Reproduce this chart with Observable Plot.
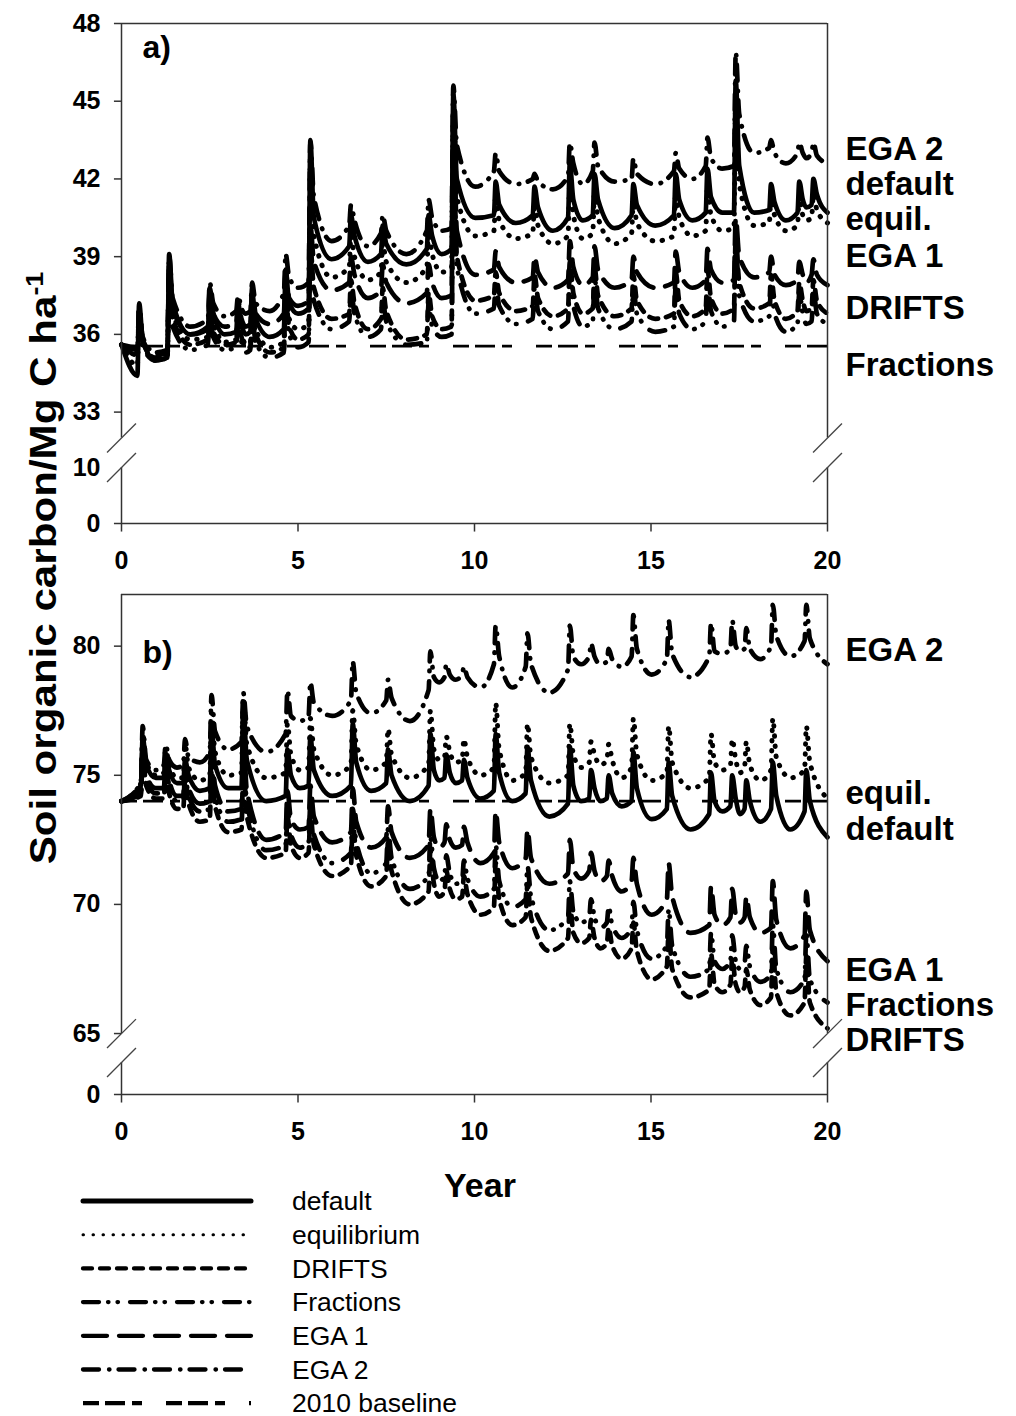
<!DOCTYPE html>
<html>
<head>
<meta charset="utf-8">
<script src="https://cdn.jsdelivr.net/npm/d3@7"></script>
<script src="https://cdn.jsdelivr.net/npm/@observablehq/plot@0.6"></script>
<style>
  html, body { margin: 0; padding: 0; background: #fff; }
  #root { position: relative; width: 1016px; height: 1416px; font-family: "Liberation Sans", Arial, sans-serif; color: #000; }
  #root > svg { position: absolute; left: 0; overflow: visible; }
  .ytitle { position: absolute; left: 44px; top: 568px; transform: translate(-50%, -50%) rotate(-90deg) scaleX(1.17);
            white-space: nowrap; font-weight: bold; font-size: 36px; }
  .ytitle sup { font-size: 23px; vertical-align: 0.55em; line-height: 0; }
  .xtitle { position: absolute; left: 480px; top: 1185px; transform: translate(-50%, -50%);
            font-weight: bold; font-size: 34px; }
</style>
</head>
<body>
<div id="root"></div>
<script>
// ---------- Panel a: simulated SOC, Mg C / ha (x = years after 2010) ----------
const yearsA = [0,
  0.45,0.5,0.6,0.95, 1.3,1.35,1.45,1.95, 2.45,2.5,2.6,2.92, 3.25,3.3,3.4,3.52,
  3.65,3.7,3.8,4.2, 4.6,4.65,4.75,5.0, 5.3,5.35,5.45,5.95, 6.45,6.5,6.6,6.98,
  7.35,7.4,7.5,8.07, 8.65,8.7,8.8,9.07, 9.35,9.4,9.5,10.02, 10.55,10.6,10.7,11.17,
  11.65,11.7,11.8,12.22, 12.65,12.7,12.8,13.07, 13.35,13.4,13.5,13.97, 14.45,14.5,14.6,15.12,
  15.65,15.7,15.8,16.17, 16.55,16.6,16.7,17.02, 17.35,17.4,17.5,17.92, 18.35,18.4,18.5,18.82,
  19.15,19.2,19.3,19.4, 19.55,19.6,19.7,20];

const defaultA = [35.6,
  34.4,37.2,35.8,35.0, 35.1,39.1,37.2,36.0, 36.2,37.8,36.8,36.0, 36.1,37.2,36.4,36.0,
  36.1,37.6,36.6,35.9, 36.2,38.5,37.2,36.8, 37.0,43.5,40.5,38.9, 39.4,40.6,39.8,38.8,
  39.1,40.2,39.5,38.7, 39.3,40.6,39.8,39.1, 39.3,45.3,42.0,40.5, 40.6,41.9,41.0,40.3,
  40.6,41.7,40.9,40.0, 40.5,42.6,41.2,40.4, 40.6,42.2,41.2,40.1, 40.6,41.8,41.0,40.2,
  40.6,42.2,41.2,40.4, 40.7,42.4,41.3,40.7, 40.7,45.8,42.5,40.7, 40.8,41.8,41.1,40.4,
  40.7,41.9,41.2,40.9, 41.0,42.0,41.4,40.7];

const equilA = [35.6,
  34.8,37.0,35.7,35.0, 35.1,38.6,36.8,35.8, 35.9,37.4,36.5,35.7, 35.8,36.9,36.1,35.6,
  35.7,37.2,36.2,35.5, 35.7,38.0,36.6,36.2, 36.4,42.8,39.8,38.2, 38.6,39.8,39.0,38.1,
  38.4,39.5,38.8,38.0, 38.6,40.0,39.1,38.4, 38.6,44.5,41.3,39.8, 40.0,41.4,40.4,39.7,
  39.9,41.1,40.2,39.5, 39.8,42.0,40.6,39.7, 39.9,41.6,40.5,39.5, 39.9,41.2,40.3,39.6,
  39.8,41.5,40.5,39.8, 40.0,41.7,40.6,40.0, 40.1,45.0,41.8,40.2, 40.3,41.3,40.6,40.0,
  40.2,41.3,40.6,40.4, 40.5,41.4,40.8,40.3];

const driftsA = [35.6,
  35.3,36.8,35.7,35.1, 35.2,38.4,36.6,35.6, 35.8,37.0,36.1,35.6, 35.7,36.6,35.9,35.5,
  35.5,37.0,36.0,35.3, 35.5,37.4,36.3,35.8, 36.0,39.4,37.8,36.6, 36.8,38.1,37.2,36.2,
  36.6,37.8,36.9,35.8, 36.0,37.6,36.7,36.2, 36.3,43.3,39.0,37.3, 37.5,38.4,37.6,36.9,
  37.1,38.3,37.4,36.7, 37.0,38.8,37.6,36.8, 37.0,38.6,37.5,36.7, 37.0,38.3,37.3,36.6,
  36.8,38.4,37.3,36.7, 37.0,38.5,37.4,36.8, 37.0,39.8,38.0,37.0, 37.2,38.3,37.3,36.6,
  36.9,38.0,37.3,36.9, 37.0,38.1,37.3,36.8];

const fractionsA = [35.6,
  35.2,36.6,35.5,35.0, 35.1,38.0,36.3,35.4, 35.6,36.8,35.9,35.4, 35.5,36.4,35.7,35.3,
  35.4,36.7,35.7,35.1, 35.3,37.0,36.0,35.5, 35.7,39.0,37.3,36.2, 36.5,37.7,36.8,35.9,
  36.2,37.3,36.5,35.6, 35.7,37.2,36.3,35.9, 36.0,43.0,38.6,36.8, 37.0,38.0,37.1,36.4,
  36.6,37.8,36.9,36.2, 36.5,38.4,37.1,36.3, 36.5,38.2,37.0,36.2, 36.5,37.8,36.8,36.1,
  36.3,37.9,36.8,36.2, 36.5,38.0,36.9,36.3, 36.5,39.5,37.5,36.5, 36.7,37.8,36.8,36.1,
  36.4,37.6,36.8,36.4, 36.5,37.7,36.8,36.4];

const ega1A = [35.6,
  35.4,36.9,35.8,35.2, 35.3,38.8,37.0,36.0, 36.3,37.6,36.8,36.3, 36.4,37.3,36.6,36.3,
  36.4,37.8,36.8,36.4, 36.8,38.4,37.4,37.1, 37.3,40.2,38.8,37.7, 38.0,39.0,38.3,37.4,
  37.7,38.7,38.0,37.2, 37.6,38.7,38.0,37.4, 37.5,44.0,40.0,38.3, 38.5,39.2,38.6,38.0,
  38.2,39.0,38.4,37.8, 38.1,39.6,38.6,37.9, 38.2,39.4,38.5,37.8, 38.1,39.0,38.4,37.8,
  38.0,39.2,38.4,37.8, 38.1,39.3,38.5,38.0, 38.1,40.5,39.0,38.2, 38.4,39.0,38.3,37.9,
  38.1,38.8,38.3,38.0, 38.3,38.9,38.3,37.9];

const ega2A = [35.6,
  35.5,37.0,35.9,35.3, 35.4,39.0,37.4,36.3, 36.6,38.0,37.2,36.7, 36.9,37.5,37.0,36.8,
  36.9,38.0,37.2,36.9, 37.6,39.1,38.2,37.8, 38.0,43.4,41.3,39.6, 40.2,41.0,40.4,39.4,
  39.9,40.6,40.0,39.1, 40.0,41.2,40.5,40.0, 40.1,45.6,43.3,41.7, 42.3,43.0,42.3,41.8,
  42.0,42.2,41.9,41.6, 42.1,43.4,42.6,41.8, 42.3,43.4,42.5,41.9, 42.0,42.8,42.2,41.8,
  42.3,43.0,42.4,42.0, 42.5,43.6,42.8,42.4, 42.5,46.9,44.5,43.0, 43.2,43.5,43.0,42.6,
  43.0,43.4,43.0,42.8, 43.0,43.4,42.9,42.6];

const baselineA = 35.55;

// ---------- Panel b ----------
const yearsB = [0,
  0.55,0.6,0.7,0.97, 1.2,1.25,1.35,1.57, 1.75,1.8,1.9,2.22, 2.5,2.55,2.65,3.02,
  3.4,3.45,3.55,4.1, 4.65,4.7,4.8,5.05, 5.3,5.35,5.45,5.97, 6.5,6.55,6.65,7.07,
  7.5,7.55,7.65,8.17, 8.7,8.75,8.85,9.0, 9.15,9.2,9.3,9.47, 9.65,9.7,9.8,10.17,
  10.55,10.6,10.7,11.07, 11.45,11.5,11.6,12.12, 12.65,12.7,12.8,13.02, 13.25,13.3,13.4,13.57,
  13.75,13.8,13.9,14.17, 14.45,14.5,14.6,15.02, 15.45,15.5,15.6,16.12, 16.65,16.7,16.8,17.02,
  17.25,17.3,17.4,17.52, 17.65,17.7,17.8,18.1, 18.4,18.45,18.55,18.95, 19.35,19.4,19.5,20];

const defaultB = [74.0,
  74.6,76.5,75.4,74.9, 74.9,75.8,75.2,74.7, 74.7,75.6,75.0,74.4, 74.5,76.8,75.4,74.5,
  74.5,77.6,75.6,74.0, 74.2,76.0,75.0,74.5, 74.6,76.5,75.2,74.2, 74.6,77.0,75.5,74.4,
  74.7,76.0,75.0,74.0, 74.6,76.6,75.2,74.8, 74.9,75.8,75.1,74.7, 74.8,75.6,74.9,74.1,
  74.4,76.6,75.1,74.0, 74.3,76.1,74.8,73.4, 73.9,76.1,74.6,74.0, 74.1,75.2,74.5,74.0,
  74.1,75.0,74.3,73.8, 74.0,75.9,74.5,73.3, 73.7,75.5,74.2,72.9, 73.5,75.1,74.0,73.6,
  73.8,75.0,74.1,73.5, 73.7,74.8,74.0,73.2, 73.7,75.5,74.2,72.9, 73.6,75.2,74.0,72.6];

const equilB = [74.0,
  74.7,76.6,75.5,75.0, 75.1,76.0,75.4,74.9, 74.9,76.2,75.3,74.8, 75.0,77.4,75.9,75.0,
  75.1,78.0,76.2,74.9, 75.1,77.0,75.8,75.2, 75.3,77.2,76.0,75.0, 75.4,77.5,76.2,75.2,
  75.5,76.8,75.8,74.9, 75.4,77.5,76.0,75.6, 75.7,76.5,75.9,75.5, 75.6,76.4,75.7,75.0,
  75.3,77.8,76.0,74.8, 75.1,77.0,75.7,74.7, 75.0,77.0,75.8,75.3, 75.5,76.3,75.8,75.4,
  75.6,76.2,75.6,74.9, 75.3,77.2,75.8,74.8, 75.1,76.9,75.5,74.5, 74.9,76.6,75.5,75.2,
  75.4,76.4,75.6,75.1, 75.3,76.3,75.4,74.8, 75.2,77.2,75.7,74.9, 75.2,76.9,75.5,74.1];

const driftsB = [74.0,
  74.2,75.7,74.6,74.1, 74.1,75.1,74.3,73.7, 73.7,74.8,73.9,73.2, 73.3,75.2,73.8,72.8,
  72.9,75.6,73.4,71.8, 72.0,73.4,72.3,71.8, 72.0,73.5,72.3,71.1, 71.5,73.2,71.9,70.7,
  71.1,72.4,71.3,70.0, 70.5,72.1,70.8,70.3, 70.5,71.3,70.6,70.2, 70.3,71.1,70.4,69.6,
  69.9,71.6,70.2,69.2, 69.5,70.8,69.5,68.2, 68.7,70.1,68.9,68.5, 68.7,69.4,68.7,68.3,
  68.5,69.1,68.4,67.9, 68.3,69.3,68.2,67.1, 67.6,69.0,67.5,66.4, 66.7,68.1,66.9,66.6,
  66.9,67.9,66.9,66.6, 66.8,67.5,66.7,66.1, 66.4,68.3,66.6,65.7, 66.2,68.0,66.2,65.2];

const fractionsB = [74.0,
  74.3,75.9,74.8,74.3, 74.3,75.3,74.6,74.0, 74.0,75.0,74.2,73.6, 73.7,75.6,74.2,73.2,
  73.3,76.0,73.9,72.1, 72.3,73.8,72.7,72.2, 72.4,73.9,72.7,71.6, 72.0,73.7,72.4,71.2,
  71.6,72.9,71.8,70.6, 71.1,72.6,71.4,70.9, 71.1,71.9,71.2,70.8, 70.9,71.7,71.0,70.3,
  70.6,72.3,70.9,69.9, 70.2,71.5,70.3,69.0, 69.5,70.9,69.7,69.3, 69.5,70.2,69.5,69.1,
  69.3,69.9,69.2,68.7, 69.1,70.1,69.0,67.9, 68.4,69.8,68.4,67.2, 67.5,68.9,67.8,67.5,
  67.8,68.8,67.8,67.5, 67.7,68.4,67.6,67.0, 67.3,69.2,67.5,66.6, 67.1,68.9,67.1,66.2];

const ega1B = [74.0,
  74.4,76.2,75.0,74.5, 74.5,75.6,74.8,74.2, 74.2,75.3,74.5,73.9, 74.0,76.0,74.6,73.6,
  73.7,76.4,74.4,72.5, 72.8,74.4,73.3,72.9, 73.0,74.6,73.4,72.4, 72.8,74.5,73.2,72.2,
  72.6,73.8,72.8,71.8, 72.3,73.7,72.6,72.2, 72.4,73.1,72.5,72.2, 72.3,73.0,72.4,71.6,
  72.0,73.6,72.4,71.4, 71.8,72.9,71.8,70.8, 71.2,72.5,71.4,71.0, 71.3,72.0,71.3,70.9,
  71.1,71.7,71.1,70.5, 70.9,71.8,70.8,69.6, 70.2,71.6,70.3,68.9, 69.2,70.7,69.6,69.2,
  69.5,70.6,69.6,69.3, 69.5,70.3,69.5,68.9, 69.1,70.9,69.4,68.3, 68.8,70.5,69.0,67.8];

const ega2B = [74.0,
  74.7,76.9,75.6,75.2, 75.4,76.2,75.6,75.3, 75.4,76.4,75.7,75.5, 75.9,78.1,76.7,76.0,
  76.3,78.2,76.9,75.9, 76.6,78.3,77.3,77.1, 77.3,78.6,77.8,77.3, 77.9,79.4,78.2,77.4,
  77.9,78.7,78.0,77.1, 78.3,79.8,78.8,78.6, 78.8,79.3,78.9,78.7, 78.9,79.2,78.8,78.4,
  79.3,80.8,79.6,78.4, 79.2,80.5,79.3,78.2, 79.1,80.8,79.6,79.3, 79.6,80.1,79.6,79.3,
  79.4,79.9,79.5,79.2, 79.6,81.2,79.9,78.9, 79.5,81.0,79.7,78.8, 79.6,80.9,79.8,79.7,
  79.9,81.0,80.0,79.8, 79.9,80.7,79.9,79.5, 80.0,81.6,80.4,79.6, 80.2,81.6,80.3,79.3];

const baselineB = 74.0;

// ---------- shared axis text ----------
const xTicks = [0, 5, 10, 15, 20];
const yTicksA = [0, 33, 36, 39, 42, 45, 48];
const yLabelsA = [0, 10, 33, 36, 39, 42, 45, 48];
const yTicksB = [0, 65, 70, 75, 80];
const yLabelsB = [0, 65, 70, 75, 80];
const seriesNames = ["default", "equilibrium", "DRIFTS", "Fractions", "EGA 1", "EGA 2"];
const endLabelsA = ["EGA 2", "default", "equil.", "EGA 1", "DRIFTS", "Fractions"];
const endLabelsB = ["EGA 2", "equil.", "default", "EGA 1", "Fractions", "DRIFTS"];

// ---------- styling ----------
const lineStyles = {
  "default":       {dash: null, width: 4.7},
  "equilibrium":   {dash: "0.5,9.5", width: 5},
  "DRIFTS":        {dash: "9,8", width: 4.7},
  "Fractions":     {dash: "16,9,0.5,9,0.5,12", width: 4.7},
  "EGA 1":         {dash: "24,12", width: 4.7},
  "EGA 2":         {dash: "16,10,0.5,9", width: 4.7},
  "2010 baseline": {dash: "16,6,20,7,10,24", width: 2.8}
};
const FONT = "Liberation Sans, Arial, sans-serif";
const AXIS = "#333";

// Broken y axes: values above the break keep their own units, the short
// stub below the break holds the zero.
const brkA = v => v >= 32 ? v : 28.70 + v * 0.216;
const brkB = v => v >= 65 ? v : 62.64 + v * 0.248;

// vertical slots (in plotted units) for the labels at the right-hand end
const endSlotsA = [43.12, 41.78, 40.43, 39.0, 37.01, 34.81];
const endSlotsB = [79.85, 74.30, 72.92, 67.45, 66.10, 64.73];

function panel(cfg) {
  const {years, values, base, brk, top, upperLow, lowerHigh, yTicks, yLabels,
         endLabels, endSlots, letter, height, marginTop, marginBottom, slashY} = cfg;
  const lineMarks = seriesNames.map((name, k) => {
    const rows = years.map((t, i) => ({t, v: values[k][i]}));
    const s = lineStyles[name];
    return Plot.line(rows, {
      x: "t", y: d => brk(d.v), curve: "monotone-x",
      stroke: "#000", strokeWidth: s.width, strokeDasharray: s.dash,
      strokeLinecap: "round", strokeLinejoin: "round"
    });
  });
  const bs = lineStyles["2010 baseline"];
  const slashes = [0, 20].flatMap(x => slashY.map(y => ({x, y})));
  return Plot.plot({
    width: 1016, height, marginLeft: 121, marginRight: 189, marginTop, marginBottom,
    x: {domain: [0, 20], axis: null},
    y: {domain: [brk(0), top], axis: null},
    style: {fontFamily: FONT, overflow: "visible", background: "transparent"},
    marks: [
      Plot.ruleY([base], {y: brk, x1: 0, x2: 20, stroke: "#000", strokeWidth: bs.width, strokeDasharray: bs.dash}),
      ...lineMarks,
      // frame, broken on both sides
      Plot.ruleY([top], {y: d => d, x1: 0, x2: 20, stroke: AXIS, strokeWidth: 1.5}),
      Plot.ruleY([0], {y: brk, x1: 0, x2: 20, stroke: AXIS, strokeWidth: 1.5}),
      Plot.ruleX([0, 20], {x: d => d, y1: brk(upperLow), y2: top, stroke: AXIS, strokeWidth: 1.5}),
      Plot.ruleX([0, 20], {x: d => d, y1: brk(0), y2: brk(lowerHigh), stroke: AXIS, strokeWidth: 1.5}),
      Plot.link(slashes, {x1: d => d.x - 0.41, x2: d => d.x + 0.41, y1: d => d.y - 0.56, y2: d => d.y + 0.56,
                          stroke: "#444", strokeWidth: 1.3}),
      // ticks
      Plot.ruleY(yTicks, {y: brk, x1: -0.2, x2: 0, stroke: AXIS, strokeWidth: 1.5}),
      Plot.ruleX(xTicks, {x: d => d, y1: brk(0) - 0.33, y2: brk(0), stroke: AXIS, strokeWidth: 1.5}),
      Plot.text(yLabels, {x: 0, y: brk, text: d => String(d), dx: -21, textAnchor: "end", lineAnchor: "middle",
                          fontSize: 25, fontWeight: "bold", fontFamily: FONT, fill: "#000"}),
      Plot.text(xTicks, {x: d => d, y: brk(0), text: d => String(d), dy: 37, lineAnchor: "middle",
                         fontSize: 25, fontWeight: "bold", fontFamily: FONT, fill: "#000"}),
      // right-hand series names
      Plot.text(endLabels, {x: 20, y: (d, i) => endSlots[i], text: d => d, dx: 18, textAnchor: "start",
                            lineAnchor: "middle", fontSize: 33, fontWeight: "bold", fontFamily: FONT, fill: "#000"}),
      Plot.text([letter], {x: 0, y: top, text: d => d, dx: 21, dy: cfg.letterDy, textAnchor: "start",
                           lineAnchor: "middle", fontSize: 32, fontWeight: "bold", fontFamily: FONT, fill: "#000"})
    ]
  });
}

const root = document.getElementById("root");

const svgA = panel({
  years: yearsA, values: [defaultA, equilA, driftsA, fractionsA, ega1A, ega2A],
  base: baselineA, brk: brkA, top: 48, upperLow: 32, lowerHigh: 10,
  yTicks: yTicksA, yLabels: yLabelsA, endLabels: endLabelsA, endSlots: endSlotsA,
  letter: "a)", letterDy: 24, height: 590, marginTop: 23, marginBottom: 67,
  slashY: [brkA(32), brkA(10)]
});
svgA.style.top = "0px";
root.appendChild(svgA);

const svgB = panel({
  years: yearsB, values: [defaultB, equilB, driftsB, fractionsB, ega1B, ega2B],
  base: baselineB, brk: brkB, top: 82.0, upperLow: 65, lowerHigh: 5,
  yTicks: yTicksB, yLabels: yLabelsB, endLabels: endLabelsB, endSlots: endSlotsB,
  letter: "b)", letterDy: 58, height: 560, marginTop: 4, marginBottom: 56,
  slashY: [brkB(65), brkB(5)]
});
svgB.style.top = "590px";
root.appendChild(svgB);

// axis titles
const yt = document.createElement("div");
yt.className = "ytitle";
yt.innerHTML = "Soil organic carbon/Mg C ha<sup>-1</sup>";
root.appendChild(yt);

const xt = document.createElement("div");
xt.className = "xtitle";
xt.textContent = "Year";
root.appendChild(xt);

// line-style key
const keyNames = [...seriesNames, "2010 baseline"];
const key = d3.create("svg").attr("width", 520).attr("height", 236)
  .style("top", "1180px").style("left", "0px").style("position", "absolute");
keyNames.forEach((name, i) => {
  const s = lineStyles[name];
  const y = 21 + i * 33.7;
  const dotted = name === "equilibrium";
  key.append("line").attr("x1", 83).attr("x2", 251).attr("y1", y).attr("y2", y)
    .attr("stroke", "#000")
    .attr("stroke-width", dotted ? 3 : (name === "default" ? 5 : 4.3))
    .attr("stroke-dasharray", s.dash)
    .attr("stroke-linecap", name === "2010 baseline" ? "butt" : "round");
  key.append("text").attr("x", 292).attr("y", y).attr("dy", "0.35em")
    .attr("font-family", FONT).attr("font-size", 26.5).text(name);
});
root.appendChild(key.node());
</script>
</body>
</html>
